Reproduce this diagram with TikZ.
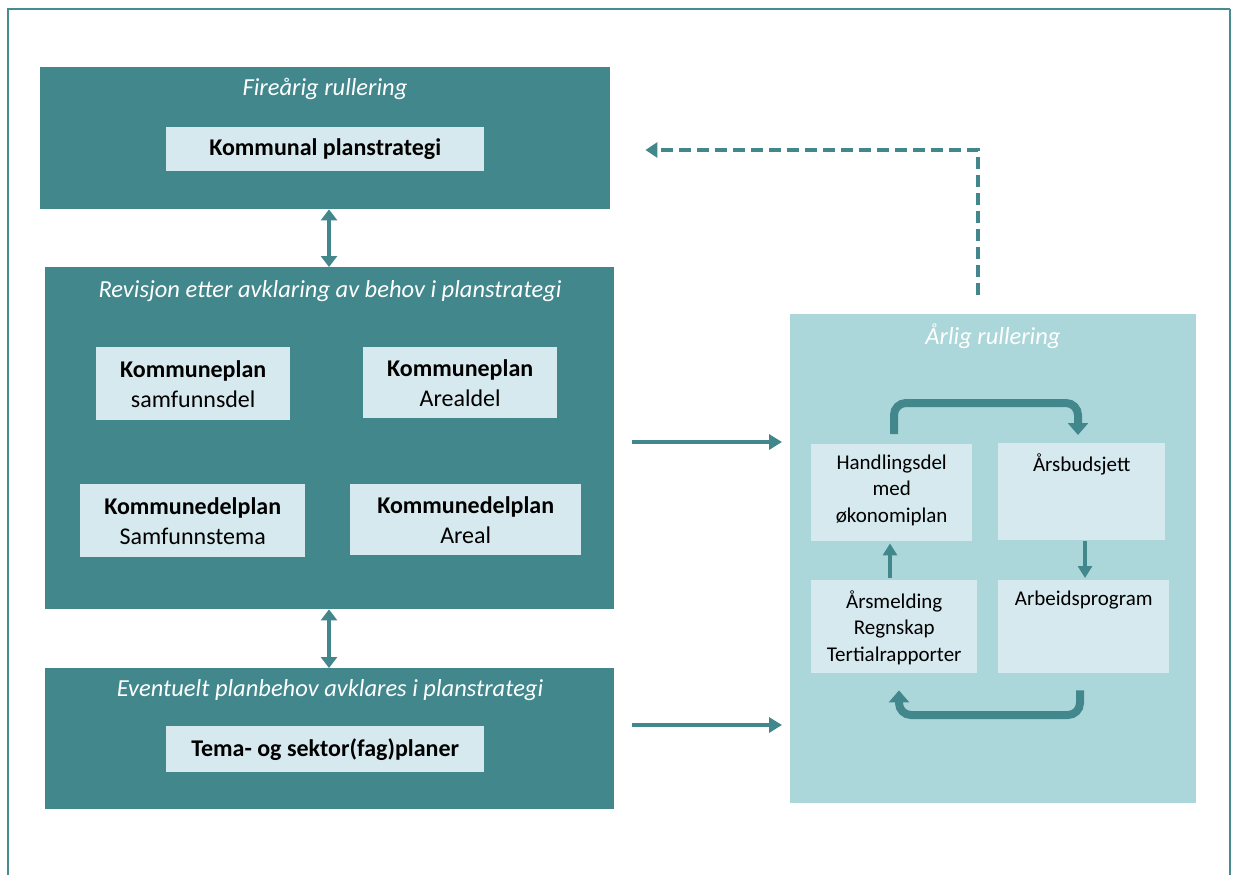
\documentclass[tikz,border=0pt]{standalone}
\usepackage{fontspec}
\setmainfont{Carlito}
\usetikzlibrary{arrows.meta,calc}
\definecolor{dteal}{RGB}{65,135,140}
\definecolor{lbox}{RGB}{213,233,238}
\definecolor{panelc}{RGB}{172,215,218}
\definecolor{framec}{RGB}{70,140,145}
\tikzset{
  x=1pt,y=-1pt,
  bigbox/.style={fill=dteal,draw=none,inner sep=0pt,anchor=north west},
  inbox/.style={fill=lbox,draw=none,inner sep=0pt,anchor=north west,align=center},
  rbox/.style={fill=lbox,draw=none,inner sep=0pt,anchor=north west},
  ttl/.style={text=white,font=\fontsize{24.5}{29}\selectfont\itshape},
  itxt/.style={font=\fontsize{24}{30}\selectfont,align=center},
  rtxt/.style={font=\fontsize{21}{26.5}\selectfont,align=center},
  harr/.style={draw=dteal,line width=4.5pt,-{Triangle[width=15pt,length=13pt]}},
  varr/.style={draw=dteal,line width=4pt,{Triangle[width=16pt,length=11pt]}-{Triangle[width=16pt,length=11pt]}},
  dasharr/.style={draw=dteal,line width=4pt,dash pattern=on 12pt off 6pt,-{Triangle[width=15pt,length=12pt]}},
  loop/.style={draw=dteal,line width=8pt,rounded corners=12pt,-{Triangle[width=20pt,length=12pt]}},
  sarr/.style={draw=dteal,line width=4.5pt,-{Triangle[width=14pt,length=12pt]}},
}
\begin{document}
\begin{tikzpicture}
\useasboundingbox (0,0) rectangle (1233,875);
\fill[white] (0,0) rectangle (1233,875);
% frame
\draw[framec,line width=2.5pt] (8,875) -- (8,9) -- (1230,9);
\draw[framec,line width=1.5pt] (1230,9) -- (1230,875);

% top box
\node[bigbox,minimum width=570pt,minimum height=142pt] (top) at (40,67) {};
\node[ttl] (ttop) at (325,89) {Fireårig rullering};
\node[inbox,minimum width=318pt,minimum height=44pt] (kps) at (166,127) {};
\node[itxt] at (kps.center) {\textbf{Kommunal planstrategi}};

% middle box
\node[bigbox,minimum width=569pt,minimum height=342pt] (mid) at (45,267) {};
\node[ttl] (tmid) at (330,291) {Revisjon etter avklaring av behov i planstrategi};
\node[inbox,minimum width=194pt,minimum height=73pt] (k1) at (96,347) {};
\node[itxt] at (k1.center) {\textbf{Kommuneplan}\\samfunnsdel};
\node[inbox,minimum width=194pt,minimum height=71pt] (k2) at (363,347) {};
\node[itxt] at (k2.center) {\textbf{Kommuneplan}\\Arealdel};
\node[inbox,minimum width=225pt,minimum height=73pt] (k3) at (80,484) {};
\node[itxt] at (k3.center) {\textbf{Kommunedelplan}\\Samfunnstema};
\node[inbox,minimum width=231pt,minimum height=71pt] (k4) at (350,484) {};
\node[itxt] at (k4.center) {\textbf{Kommunedelplan}\\Areal};

% bottom box
\node[bigbox,minimum width=569pt,minimum height=141pt] (bot) at (45,668) {};
\node[ttl] (tbot) at (330,690) {Eventuelt planbehov avklares i planstrategi};
\node[inbox,minimum width=318pt,minimum height=46pt] (tsp) at (166,726) {};
\node[itxt] at (tsp.center) {\textbf{Tema- og sektor(fag)planer}};

% right panel
\node[fill=panelc,draw=none,inner sep=0pt,anchor=north west,minimum width=406pt,minimum height=489pt] (panel) at (790,314) {};
\node[ttl] (tpan) at (993,336) {Årlig rullering};
\node[rbox,minimum width=161pt,minimum height=97pt] (hand) at (811,444) {};
\node[rtxt,anchor=north] at ([yshift=-7pt]hand.north) {Handlingsdel\\med\\økonomiplan};
\node[rbox,minimum width=167pt,minimum height=97pt] (bud) at (998,443) {};
\node[rtxt,anchor=north] at ([yshift=-7pt]bud.north) {Årsbudsjett};
\node[rbox,minimum width=166pt,minimum height=93pt] (arsm) at (811,580) {};
\node[rtxt,anchor=north] at ([yshift=-7pt]arsm.north) {Årsmelding\\Regnskap\\Tertialrapporter};
\node[rbox,minimum width=171pt,minimum height=93pt] (arb) at (998,580) {};
\node[rtxt,anchor=north] at ([yshift=-7pt]arb.north) {Arbeidsprogram};

% coordinates
\coordinate (a1) at (700,442);
\coordinate (a2) at (700,725);
\coordinate (v1) at (329,0);
\coordinate (d1) at (978,150);
\coordinate (lt1) at (894,403);
\coordinate (lt2) at (1078,403);
\coordinate (lb1) at (1080,715);
\coordinate (lb2) at (899,715);

% connectors
\draw[varr] (top.south -| v1) -- (mid.north -| v1);
\draw[varr] (mid.south -| v1) -- (bot.north -| v1);
\draw[harr,shorten <=18pt,shorten >=8pt] (mid.east |- a1) -- (panel.west |- a1);
\draw[harr,shorten <=18pt,shorten >=8pt] (bot.east |- a2) -- (panel.west |- a2);
\draw[dasharr,shorten <=19pt,shorten >=35pt] (panel.north -| d1) -- (d1) -- (top.east |- d1);
\draw[loop,shorten <=10pt,shorten >=8pt] (hand.north -| lt1) -- (lt1) -- (lt2) -- (bud.north -| lt2);
\draw[loop,shorten <=17pt,shorten >=17pt] (arb.south -| lb1) -- (lb1) -- (lb2) -- (arsm.south -| lb2);
\draw[sarr,shorten <=2pt,shorten >=2pt] (arsm.north -| 890,0) -- (hand.south -| 890,0);
\draw[sarr,shorten <=1pt,shorten >=2pt] (bud.south -| 1085,0) -- (arb.north -| 1085,0);
\end{tikzpicture}
\end{document}
